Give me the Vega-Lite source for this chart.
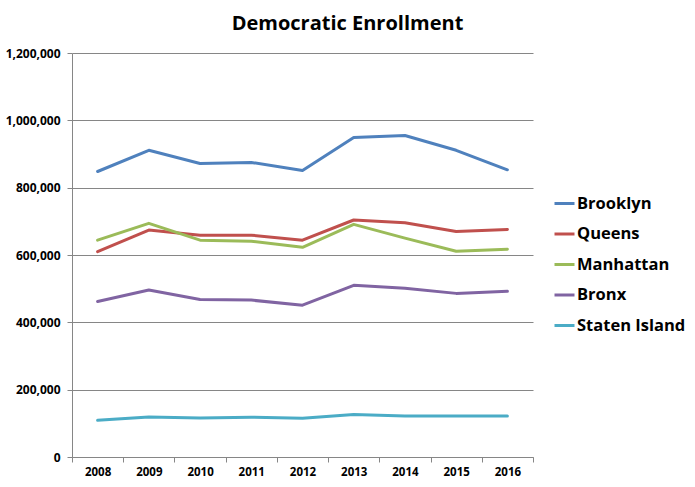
{
  "$schema": "https://vega.github.io/schema/vega-lite/v6.json",
  "autosize": "none",
  "width": 461,
  "height": 404,
  "padding": {"left": 72, "top": 53, "right": 162, "bottom": 30},
  "background": "white",
  "title": {
    "text": "Democratic Enrollment",
    "font": "Open Sans",
    "fontSize": 20,
    "fontWeight": "bold",
    "color": "#000000",
    "anchor": "middle",
    "dx": 45,
    "offset": 13
  },
  "data": {
    "values": [
      {"year": "2008", "borough": "Brooklyn", "value": 848000},
      {"year": "2009", "borough": "Brooklyn", "value": 911000},
      {"year": "2010", "borough": "Brooklyn", "value": 872000},
      {"year": "2011", "borough": "Brooklyn", "value": 875000},
      {"year": "2012", "borough": "Brooklyn", "value": 851000},
      {"year": "2013", "borough": "Brooklyn", "value": 949000},
      {"year": "2014", "borough": "Brooklyn", "value": 955000},
      {"year": "2015", "borough": "Brooklyn", "value": 911000},
      {"year": "2016", "borough": "Brooklyn", "value": 853000},
      {"year": "2008", "borough": "Queens", "value": 610000},
      {"year": "2009", "borough": "Queens", "value": 674000},
      {"year": "2010", "borough": "Queens", "value": 659000},
      {"year": "2011", "borough": "Queens", "value": 659000},
      {"year": "2012", "borough": "Queens", "value": 644000},
      {"year": "2013", "borough": "Queens", "value": 704000},
      {"year": "2014", "borough": "Queens", "value": 696000},
      {"year": "2015", "borough": "Queens", "value": 670000},
      {"year": "2016", "borough": "Queens", "value": 676000},
      {"year": "2008", "borough": "Manhattan", "value": 644000},
      {"year": "2009", "borough": "Manhattan", "value": 694000},
      {"year": "2010", "borough": "Manhattan", "value": 644000},
      {"year": "2011", "borough": "Manhattan", "value": 641000},
      {"year": "2012", "borough": "Manhattan", "value": 623000},
      {"year": "2013", "borough": "Manhattan", "value": 691000},
      {"year": "2014", "borough": "Manhattan", "value": 650000},
      {"year": "2015", "borough": "Manhattan", "value": 611000},
      {"year": "2016", "borough": "Manhattan", "value": 617000},
      {"year": "2008", "borough": "Bronx", "value": 462000},
      {"year": "2009", "borough": "Bronx", "value": 496000},
      {"year": "2010", "borough": "Bronx", "value": 468000},
      {"year": "2011", "borough": "Bronx", "value": 466000},
      {"year": "2012", "borough": "Bronx", "value": 451000},
      {"year": "2013", "borough": "Bronx", "value": 510000},
      {"year": "2014", "borough": "Bronx", "value": 501000},
      {"year": "2015", "borough": "Bronx", "value": 486000},
      {"year": "2016", "borough": "Bronx", "value": 492000},
      {"year": "2008", "borough": "Staten Island", "value": 109000},
      {"year": "2009", "borough": "Staten Island", "value": 119000},
      {"year": "2010", "borough": "Staten Island", "value": 116000},
      {"year": "2011", "borough": "Staten Island", "value": 118000},
      {"year": "2012", "borough": "Staten Island", "value": 115000},
      {"year": "2013", "borough": "Staten Island", "value": 126000},
      {"year": "2014", "borough": "Staten Island", "value": 122000},
      {"year": "2015", "borough": "Staten Island", "value": 122000},
      {"year": "2016", "borough": "Staten Island", "value": 122000}
    ]
  },
  "mark": {"type": "line", "strokeWidth": 3, "strokeCap": "round", "strokeJoin": "round"},
  "encoding": {
    "x": {
      "field": "year",
      "type": "ordinal",
      "scale": {"paddingInner": 0, "paddingOuter": 0},
      "axis": {
        "title": null,
        "labelAngle": 0,
        "labelFont": "Open Sans",
        "labelFontSize": 11.5,
        "labelFontWeight": "bold",
        "labelColor": "#000000",
        "labelPadding": 4,
        "tickBand": "extent",
        "tickSize": 5,
        "tickColor": "#868686",
        "domainColor": "#868686",
        "grid": false
      }
    },
    "y": {
      "field": "value",
      "type": "quantitative",
      "scale": {"domain": [0, 1200000], "nice": false},
      "axis": {
        "title": null,
        "values": [0, 200000, 400000, 600000, 800000, 1000000, 1200000],
        "format": ",d",
        "labelFont": "Open Sans",
        "labelFontSize": 12,
        "labelFontWeight": "bold",
        "labelColor": "#000000",
        "labelPadding": 7,
        "tickSize": 5,
        "tickColor": "#868686",
        "domainColor": "#868686",
        "grid": true,
        "gridColor": "#868686",
        "gridWidth": 1
      }
    },
    "color": {
      "field": "borough",
      "type": "nominal",
      "sort": ["Brooklyn", "Queens", "Manhattan", "Bronx", "Staten Island"],
      "scale": {
        "domain": ["Brooklyn", "Queens", "Manhattan", "Bronx", "Staten Island"],
        "range": ["#4F81BD", "#C0504D", "#9BBB59", "#8064A2", "#4BACC6"]
      },
      "legend": {
        "title": null,
        "orient": "none",
        "legendX": 481,
        "legendY": 139,
        "symbolType": "stroke",
        "symbolSize": 400,
        "symbolStrokeWidth": 3,
        "labelFont": "Open Sans",
        "labelFontSize": 16.5,
        "labelFontWeight": "bold",
        "labelColor": "#000000",
        "labelOffset": 1,
        "rowPadding": 10.5
      }
    }
  },
  "config": {
    "view": {"stroke": null}
  }
}
